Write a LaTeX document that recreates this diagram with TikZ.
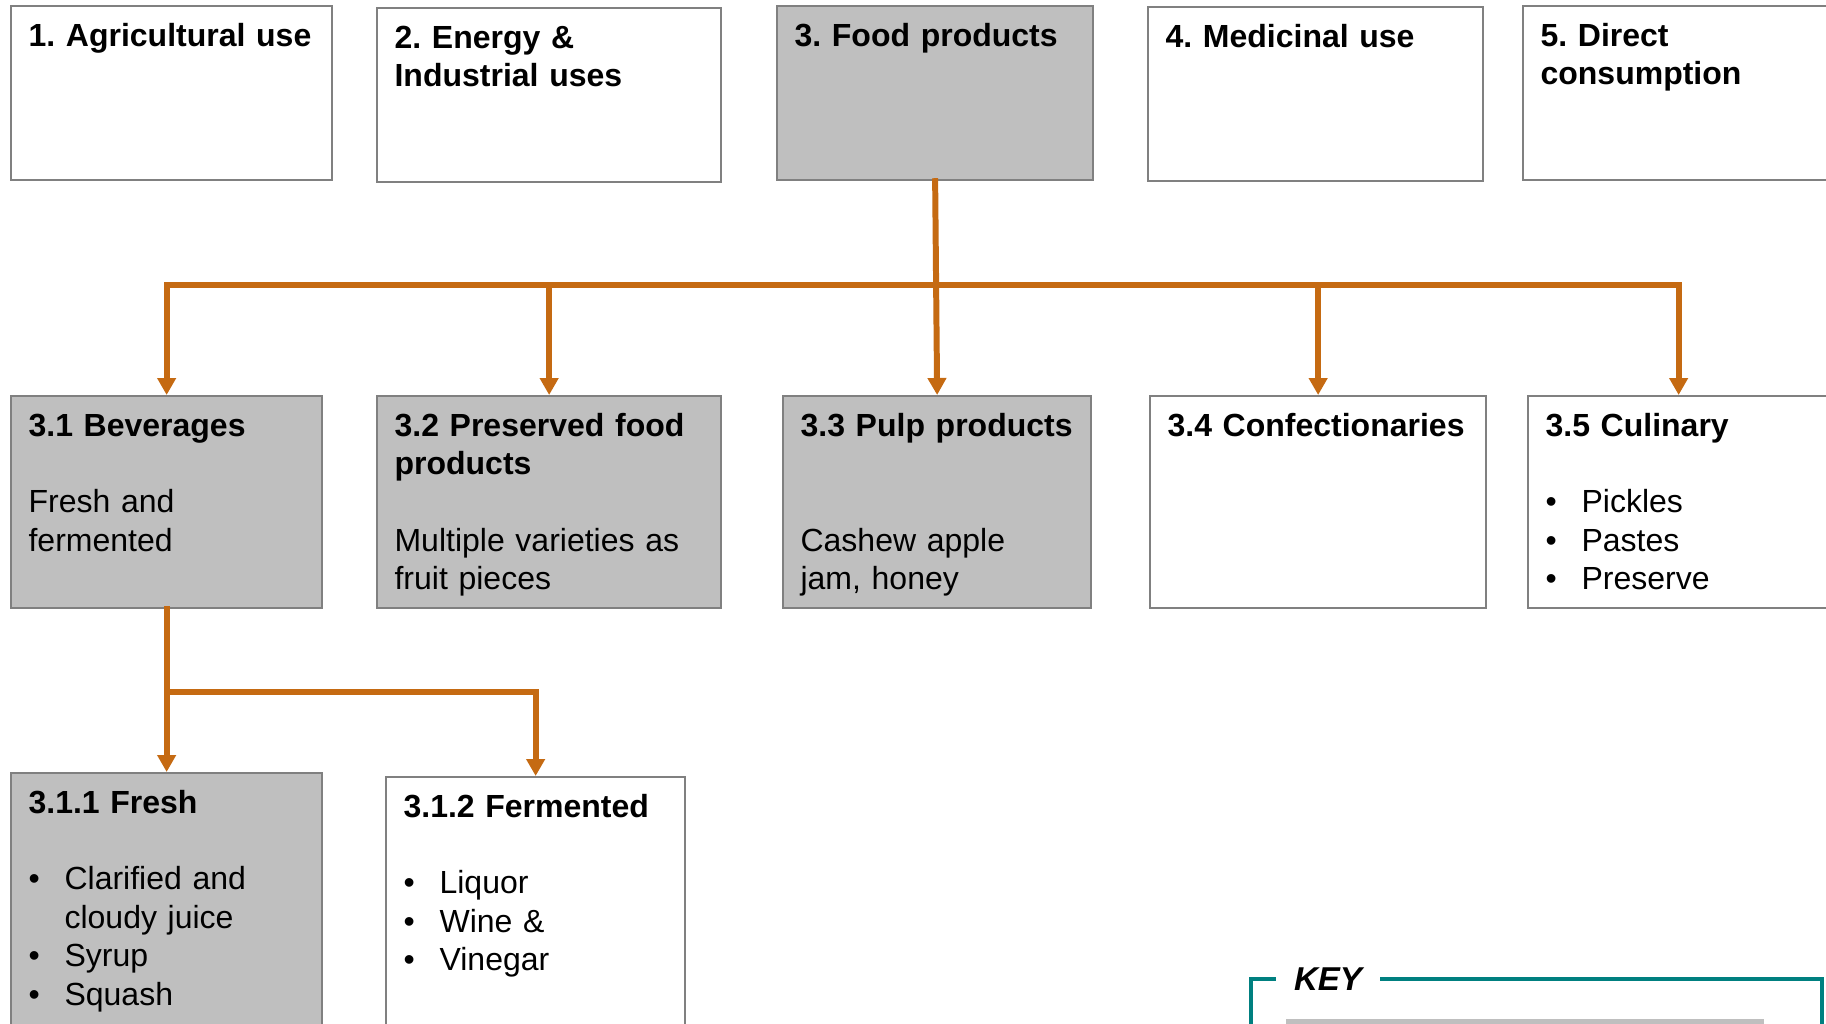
\documentclass[tikz,border=0pt]{standalone}
\usepackage{fontspec}
\setmainfont{Liberation Sans}
\usepackage{tikz}
\usetikzlibrary{arrows.meta,positioning}
\definecolor{flow}{RGB}{197,106,18}
\definecolor{cellgrey}{RGB}{191,191,191}
\definecolor{cellline}{RGB}{128,128,128}
\definecolor{keyteal}{RGB}{0,128,128}
\newcommand{\linew}{1.7pt}
\newcommand{\cellw}{0.6pt}
\newcommand{\skipline}{\par\vspace{\baselineskip}}
\newcommand{\itm}[1]{\par\hangindent=0.36cm\hangafter=1\noindent\makebox[0.36cm][l]{\textbullet}#1}
\frenchspacing

\begin{document}
\begin{tikzpicture}[x=0.01cm,y=-0.01cm]
        \useasboundingbox (0,0) rectangle (1826,1023);
        \clip (0,0) rectangle (1826,1023);
        \begin{scope}
            %\draw[help lines,step=100] (0,0) grid (1826,1023);
            \tikzset{cell/.style={draw=cellline, line width=\cellw, anchor=north west,
                inner xsep=0.175cm, inner ysep=0pt, text height=0.40cm, align=left,
                font=\fontsize{9.1pt}{10.93pt}\selectfont\frenchspacing}}
            \tikzset{shaded/.style={cell, fill=cellgrey}}
            \tikzset{link/.style={draw=flow, line width=\linew, line cap=rect}}
            \tikzset{arr/.style={link, -{Triangle[width=0.18cm,length=0.17cm]}}}

            % top row
            \node[cell, text width=2.86cm, text depth=1.34cm] (b1) at (10,5) {\bfseries 1. Agricultural use};
            \node[cell, text width=3.09cm, text depth=1.34cm] (b2) at (376,7) {\bfseries 2. Energy \&\\Industrial uses};
            \node[shaded, text width=2.81cm, text depth=1.34cm] (b3) at (776,5) {\bfseries 3. Food products};
            \node[cell, text width=3.00cm, text depth=1.34cm] (b4) at (1147,6) {\bfseries 4. Medicinal use};
            \node[cell, text width=3.05cm, text depth=1.34cm] (b5) at (1522,5) {\bfseries 5. Direct\\consumption};

            % second row
            \node[shaded, text width=2.76cm, text depth=1.72cm] (c1) at (10,395)
                {{\bfseries 3.1 Beverages}\skipline Fresh and\\fermented};
            \node[shaded, text width=3.09cm, text depth=1.72cm] (c2) at (376,395)
                {{\bfseries 3.2 Preserved food\\products}\skipline Multiple varieties as\\fruit pieces};
            \node[shaded, text width=2.73cm, text depth=1.72cm] (c3) at (782,395)
                {{\bfseries 3.3 Pulp products}\par\vspace{2\baselineskip}Cashew apple\\jam, honey};
            \node[cell, text width=3.01cm, text depth=1.72cm] (c4) at (1149,395)
                {\bfseries 3.4 Confectionaries};
            \node[cell, text width=2.66cm, text depth=1.72cm] (c5) at (1527,395)
                {{\bfseries 3.5 Culinary}\skipline\itm{Pickles}\itm{Pastes}\itm{Preserve}};

            % third row
            \node[shaded, text width=2.76cm, text depth=3.00cm] (d1) at (10,772)
                {{\bfseries 3.1.1 Fresh}\skipline\itm{Clarified and\newline cloudy juice}\itm{Syrup}\itm{Squash}};
            \node[cell, text width=2.64cm, text depth=3.00cm] (d2) at (385,776)
                {{\bfseries 3.1.2 Fermented}\skipline\itm{Liquor}\itm{Wine \&}\itm{Vinegar}};

            \coordinate (bar) at (934,285);
            \coordinate (fork) at (165,692);

            \draw[arr] (b3.south) -- (c3.north);
            \draw[link] (c1.north |- bar) -- (c5.north |- bar);
            \foreach \n in {c1,c2,c4,c5}
                \draw[arr] (\n.north |- bar) -- (\n.north);

            \draw[arr] (c1.south) -- (d1.north);
            \draw[arr] (c1.south |- fork) -| (d2.north);

            % key
            \draw[keyteal, line width=1.2pt] (1251,1060) |- (1822,979) -- (1822,1060);
            \fill[cellgrey] (1286,1019) rectangle (1764,1030);
            \node[fill=white, inner xsep=0.18cm, inner ysep=1pt,
                font=\fontsize{9.4pt}{11pt}\selectfont\bfseries\itshape] (keyhead) at (1328,979) {KEY};
        \end{scope}
    \end{tikzpicture}
\end{document}
